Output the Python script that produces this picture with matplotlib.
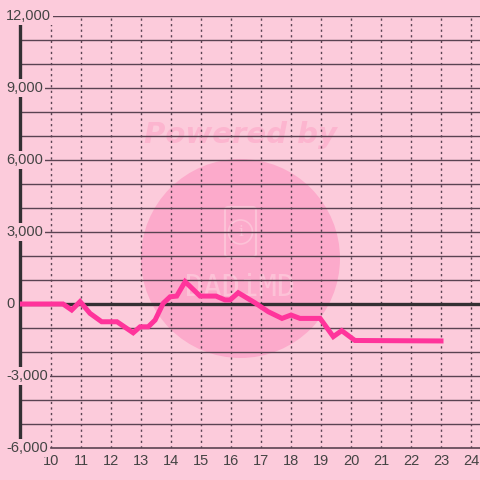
import matplotlib
matplotlib.use("Agg")
import matplotlib.pyplot as plt
from matplotlib.patches import Ellipse, FancyBboxPatch
import numpy as np

plt.rcParams['font.family'] = ['Liberation Sans', 'DejaVu Sans']

# ---- data ----
x_vals = [8.9, 10.4, 10.69, 10.97, 11.3, 11.69, 12.2, 12.74, 12.97, 13.24, 13.47,
          13.74, 13.97, 14.19, 14.47, 14.97, 15.5, 15.8, 15.97, 16.24, 16.8,
          17.24, 17.7, 18.0, 18.3, 18.97, 19.41, 19.69, 20.13, 23.0]
y_vals = [0, 0, -250, 100, -390, -740, -740, -1200, -950, -950, -670,
          30, 300, 330, 930, 330, 330, 170, 170, 470, 50,
          -320, -600, -460, -600, -600, -1360, -1110, -1520, -1540]
x_ticks = list(range(10, 25))
y_labels = ["12,000", "9,000", "6,000", "3,000", "0", "-3,000", "-6,000"]
y_label_vals = [12000, 9000, 6000, 3000, 0, -3000, -6000]

BG = "#fccbdb"
GRID = "#5a4352"
DARK = "#333033"
LINE = "#ff349b"

fig = plt.figure(figsize=(4.8, 4.8), dpi=100, facecolor=BG)
ax = fig.add_axes([20/480, 32/480, 460/480, 432/480])
ax.set_facecolor(BG)
ax.set_xlim(8.967, 24.3)
ax.set_ylim(-6000, 12000)

# watermark
ax.add_patch(Ellipse((0.4793, 0.4387), 2*99.5/460, 2*99.5/432, transform=ax.transAxes,
                     facecolor="#fcaacb", edgecolor="none", zorder=0))
ax.text(0.4793, (448-135)/432, "Powered by", transform=ax.transAxes, ha="center", va="center",
        fontsize=21, fontweight="bold", style="italic", color="#fcb5cf", zorder=0.5,
        family=["DejaVu Sans"])
ax.add_patch(FancyBboxPatch(((225-20)/460, (448-257)/432), 31/460, 50/432,
                            boxstyle="round,pad=0.0,rounding_size=0.008", transform=ax.transAxes,
                            facecolor="none", edgecolor="#fcc2d7", lw=1.5, zorder=0.5))
ax.add_patch(Ellipse(((240.5-20)/460, (448-232)/432), 24/460, 24/432, transform=ax.transAxes,
                     facecolor="none", edgecolor="#fcc2d7", lw=1.2, zorder=0.5))
ax.text((240.5-20)/460, (448-232)/432, "i", transform=ax.transAxes, ha="center", va="center",
        fontsize=11, color="#fcc2d7", zorder=0.5, family=["DejaVu Serif"])
ax.text((240.5-20)/460, (448-287)/432, "DADiMD", transform=ax.transAxes, ha="center", va="center",
        fontsize=22, color="#fcc2d7", zorder=0.5, family=["DejaVu Sans Mono"])

# horizontal grid lines
for v in range(-5000, 12001, 1000):
    if v == 0:
        continue
    ax.axhline(v, color=GRID, lw=1.0, zorder=1)
ax.plot([10, 24.3], [-6000, -6000], color=GRID, lw=1.2, zorder=1, clip_on=False)

# vertical dotted grid lines
for t in x_ticks:
    ax.plot([t, t], [-6000, 12000], color=GRID, lw=1.0, ls=(0, (1.6, 2.4)), zorder=1)

# zero line
ax.axhline(0, color=DARK, lw=2.4, zorder=2)

# data line
ax.plot(x_vals, y_vals, color=LINE, lw=3.6, zorder=3, solid_joinstyle="miter")

# spines
for s in ["top", "right", "bottom"]:
    ax.spines[s].set_visible(False)
ax.spines["left"].set_color(DARK)
ax.spines["left"].set_linewidth(2.4)
ax.spines["left"].set_zorder(2)

# y labels inside, left aligned with background
ax.set_yticks([])
for v, lab in zip(y_label_vals, y_labels):
    ax.text(-14/460, v, lab, transform=ax.get_yaxis_transform(), ha="left", va="center",
            fontsize=10.5, color="#444444", zorder=4,
            bbox=dict(boxstyle="square,pad=0.12", facecolor=BG, edgecolor="none"))

ax.set_xticks(x_ticks)
ax.set_xticklabels([str(t) for t in x_ticks])
ax.tick_params(axis="x", length=0, pad=4, labelsize=10.5, labelcolor="#444444")

fig.savefig("out.png", dpi=100, facecolor=BG)
